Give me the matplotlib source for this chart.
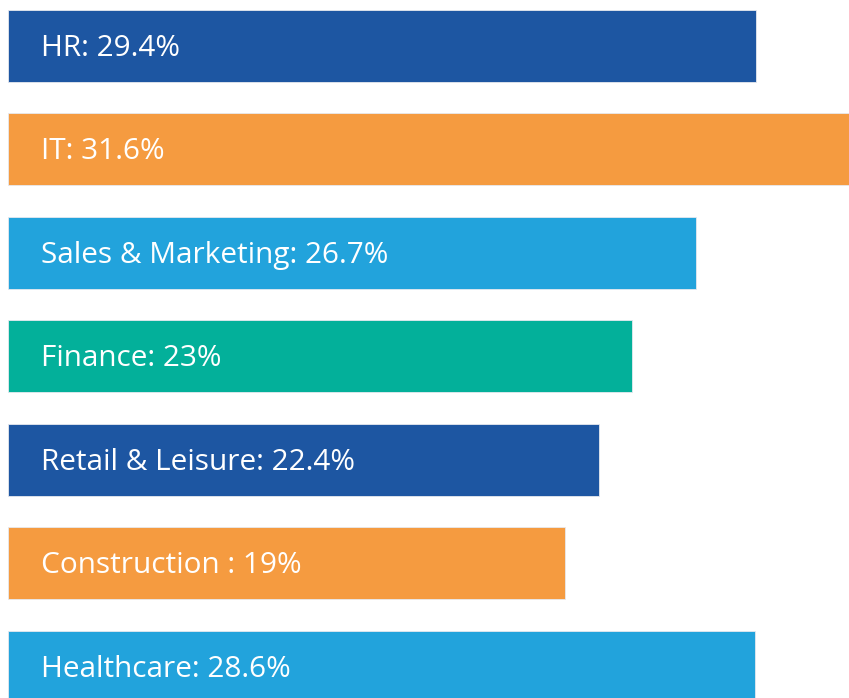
import matplotlib
matplotlib.use("Agg")
import matplotlib.pyplot as plt

categories = ["HR", "IT", "Sales & Marketing", "Finance", "Retail & Leisure",
              "Construction ", "Healthcare"]
values = ["29.4%", "31.6%", "26.7%", "23%", "22.4%", "19%", "28.6%"]
# bar lengths as drawn in the picture (not proportional to the labels)
bar_lengths = [29.4, 33.5, 27.05, 24.55, 23.23, 21.9, 29.38]
colors = ["#1D56A2", "#F59B40", "#22A3DC", "#03B09A", "#1D56A2", "#F59B40", "#22A3DC"]

fig = plt.figure(figsize=(8.49, 6.98), dpi=100)
ax = fig.add_axes([0, 0, 1, 1])
ypos = list(range(len(categories)))
ax.barh(ypos, bar_lengths, height=0.696, color=colors, left=0,
        edgecolor="#e6e9ef", linewidth=0.6)

ax.set_xlim(-0.3146, 33.07)
ax.set_ylim(6.30, -0.444)
ax.axis("off")

for y, c, v in zip(ypos, categories, values):
    ax.annotate(f"{c}: {v}", xy=(0, y), xytext=(33, 1), textcoords="offset pixels",
                color="white", fontsize=21.4, family="Open Sans",
                va="center_baseline", ha="left")

fig.savefig("out.png", dpi=100)
